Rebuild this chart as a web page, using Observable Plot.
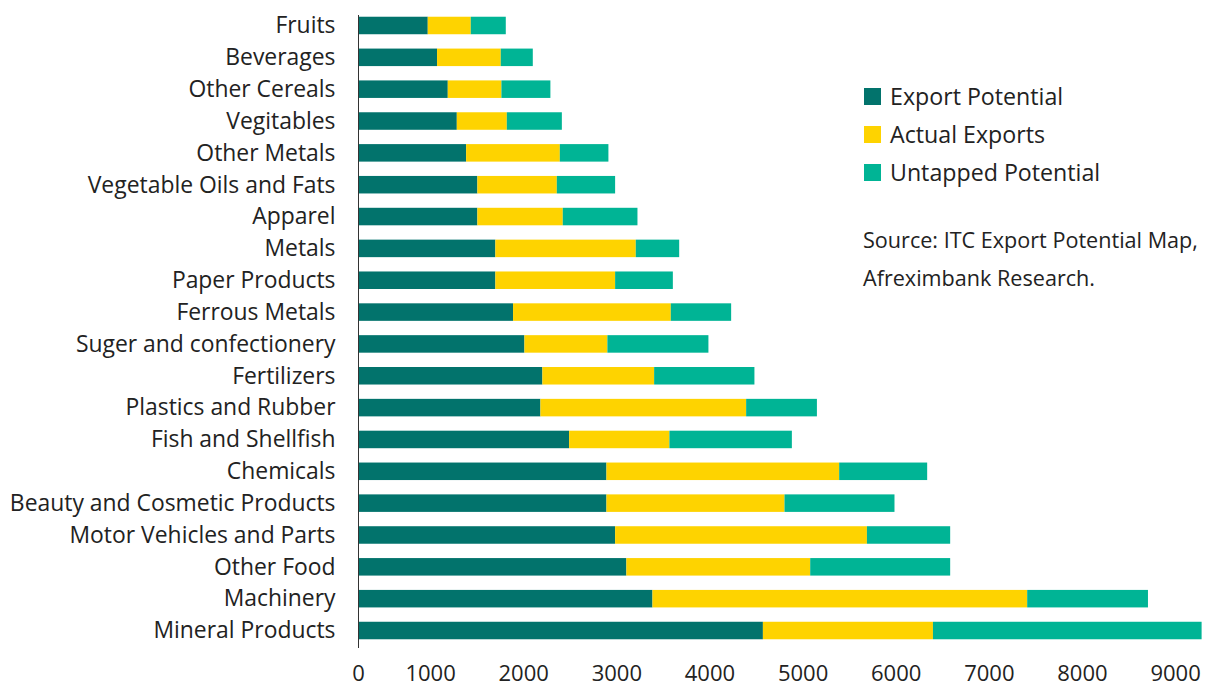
<!DOCTYPE html>
<html><head><meta charset="utf-8">
<script src="https://cdn.jsdelivr.net/npm/d3@7"></script>
<script src="https://cdn.jsdelivr.net/npm/@observablehq/plot@0.6"></script>
<style>
body{margin:0;background:#fff;font-family:"Open Sans",sans-serif;}
#wrap{position:relative;width:1210px;height:688px;overflow:hidden;}
#legend{position:absolute;left:864px;top:77px;color:#222;font-size:23.2px;}
.row{display:flex;align-items:center;height:38px;white-space:nowrap;}
.sw{width:17px;height:17px;margin-right:9px;flex:none;}
#source{position:absolute;left:863px;top:221px;font-size:21.6px;line-height:38px;color:#222;white-space:nowrap;}
</style></head><body><div id="wrap"></div>
<script>
const categories = ["Fruits","Beverages","Other Cereals","Vegitables","Other Metals","Vegetable Oils and Fats","Apparel","Metals","Paper Products","Ferrous Metals","Suger and confectionery","Fertilizers","Plastics and Rubber","Fish and Shellfish","Chemicals","Beauty and Cosmetic Products","Motor Vehicles and Parts","Other Food","Machinery","Mineral Products"];
const exportPotential   = [975,1075,1190,1287,1387,1508,1508,1701,1701,1891,2013,2206,2185,2493,2894,2894,2987,3108,3388,4574];
const actualExports     = [462,684,576,537,1006,853,917,1508,1286,1694,891,1200,2209,1077,2499,1912,2704,1974,4024,1826];
const untappedPotential = [376,344,526,591,522,626,802,466,620,648,1085,1077,760,1315,945,1181,894,1503,1297,2885];
const seriesNames  = ["Export Potential","Actual Exports","Untapped Potential"];
const seriesColors = ["#02736C","#FED300","#00B495"];
const xTicks = [0,1000,2000,3000,4000,5000,6000,7000,8000,9000];
const sourceLines = ["Source: ITC Export Potential Map,","Afreximbank Research."];

const seriesValues = [exportPotential, actualExports, untappedPotential];
const data = categories.flatMap((c, i) => seriesNames.map((s, k) => ({category: c, series: s, value: seriesValues[k][i]})));

const plot = Plot.plot({
  width: 1210, height: 688,
  marginLeft: 358, marginRight: 7, marginTop: 2.4, marginBottom: 34.4,
  style: {fontFamily: '"Open Sans", sans-serif', color: "#222", background: "transparent"},
  x: {domain: [226, 9300], clamp: true, range: [358, 1203]},
  y: {domain: categories, padding: 0.45, round: false},
  color: {domain: seriesNames, range: seriesColors},
  marks: [
    Plot.barX(data, Plot.stackX({x: "value", y: "category", fill: "series", order: seriesNames})),
    Plot.ruleX([0], {stroke: "#333", insetTop: 12.6, insetBottom: 5.6}),
    Plot.axisY({tickSize: 0, tickPadding: 23, fontSize: 22.9, label: null}),
    Plot.axisX({ticks: xTicks, tickSize: 0, tickPadding: 11.5, fontSize: 22, tickFormat: d3.format("d"), label: null})
  ]
});
const wrap = document.getElementById("wrap");
wrap.appendChild(plot);

const legend = document.createElement("div");
legend.id = "legend";
seriesNames.forEach((s, k) => {
  const row = document.createElement("div");
  row.className = "row";
  const sw = document.createElement("div");
  sw.className = "sw";
  sw.style.background = plot.scale("color").apply(s);
  const t = document.createElement("span");
  t.textContent = s;
  row.appendChild(sw); row.appendChild(t);
  legend.appendChild(row);
});
wrap.appendChild(legend);

const src = document.createElement("div");
src.id = "source";
sourceLines.forEach(l => { const d = document.createElement("div"); d.textContent = l; src.appendChild(d); });
wrap.appendChild(src);
</script>
</body></html>
